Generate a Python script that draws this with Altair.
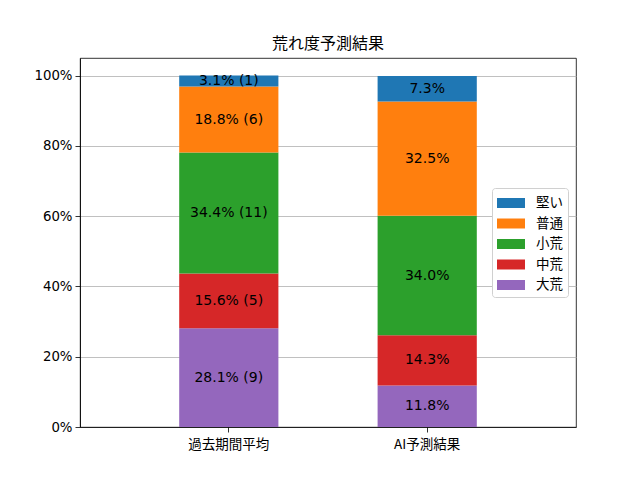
import altair as alt
import pandas as pd

categories = ["過去期間平均", "AI予測結果"]
levels = ["大荒", "中荒", "小荒", "普通", "堅い"]  # bottom to top
past_pct = [28.1, 15.6, 34.4, 18.8, 3.1]
past_counts = [9, 5, 11, 6, 1]
ai_pct = [11.8, 14.3, 34.0, 32.5, 7.3]

legend_order = ["堅い", "普通", "小荒", "中荒", "大荒"]
colors = ["#1f77b4", "#ff7f0e", "#2ca02c", "#d62728", "#9467bd"]

rows = []
for i, lv in enumerate(levels):
    rows.append({"cat": categories[0], "level": lv, "order": i, "value": past_pct[i],
                 "label": f"{past_pct[i]:.1f}% ({past_counts[i]})"})
for i, lv in enumerate(levels):
    rows.append({"cat": categories[1], "level": lv, "order": i, "value": ai_pct[i],
                 "label": f"{ai_pct[i]:.1f}%"})
df = pd.DataFrame(rows)

FONT = "Noto Sans CJK JP"
NUMFONT = "DejaVu Sans, Noto Sans CJK JP"

base = alt.Chart(df).transform_stack(
    stack="value", groupby=["cat"], as_=["y0", "y1"], sort=[alt.SortField("order", order="ascending")]
).transform_calculate(mid="(datum.y0 + datum.y1) / 2")

xenc = alt.X("cat:N", sort=categories, title=None,
             scale=alt.Scale(paddingInner=0.5, paddingOuter=0.5),
             axis=alt.Axis(labelAngle=0, tickColor="black", tickSize=5, tickWidth=0.8,
                           domainColor="black", domainWidth=0.8, labelColor="black",
                           labelFontSize=13.5, labelFont=FONT, labelPadding=5, grid=False))

bars = base.mark_bar().encode(
    x=xenc,
    y=alt.Y("y0:Q", title=None,
            scale=alt.Scale(domain=[0, 105], nice=False),
            axis=alt.Axis(values=[0, 20, 40, 60, 80, 100], labelExpr="datum.value + '%'",
                          grid=True, gridColor="#b0b0b0", gridWidth=0.8,
                          tickColor="black", tickSize=5, tickWidth=0.8,
                          domainColor="black", domainWidth=0.8, labelColor="black",
                          labelFontSize=13.3, labelFont=NUMFONT, labelPadding=3)),
    y2="y1:Q",
    color=alt.Color("level:N", scale=alt.Scale(domain=legend_order, range=colors),
                    legend=alt.Legend(title=None, orient="none", legendX=412, legendY=130,
                                      fillColor="white", strokeColor="#d0d0d0", cornerRadius=3,
                                      padding=5, rowPadding=3.5,
                                      symbolType="M-1.4,-0.5H1.4V0.5H-1.4Z", symbolSize=400,
                                      symbolOffset=4,
                                      symbolStrokeWidth=0, symbolOpacity=1,
                                      labelFontSize=13.5, labelFont=FONT, labelColor="black",
                                      labelOffset=15)),
)

texts = base.mark_text(fontSize=14, font=NUMFONT, color="black", baseline="middle").encode(
    x=alt.X("cat:N", sort=categories),
    y=alt.Y("mid:Q"),
    text="label:N",
)

chart = alt.layer(bars, texts).properties(
    width=496, height=369,
    title=alt.TitleParams("荒れ度予測結果", fontSize=16, font=FONT, fontWeight="normal",
                          color="black", offset=6),
    autosize=alt.AutoSizeParams(type="none"),
    padding={"left": 72, "top": 50, "right": 56, "bottom": 45},
).configure_view(stroke="black", strokeWidth=0.8)

chart.save("out.html", embed_options={"renderer": "svg", "actions": False})
